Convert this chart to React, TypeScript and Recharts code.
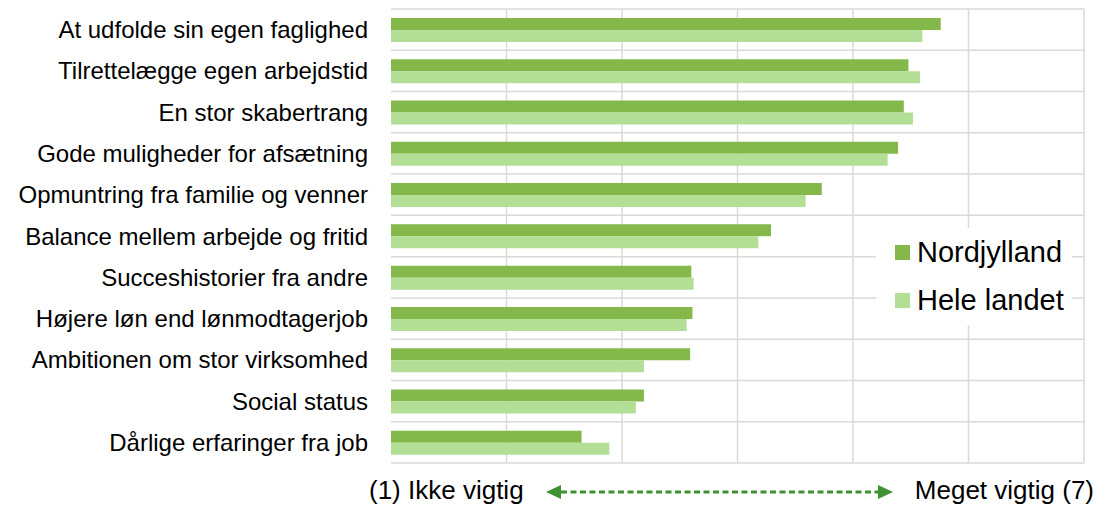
import React from "react";
import { BarChart, Bar, XAxis, YAxis, CartesianGrid, Legend } from "recharts";

const categories = [
  "At udfolde sin egen faglighed",
  "Tilrettelægge egen arbejdstid",
  "En stor skabertrang",
  "Gode muligheder for afsætning",
  "Opmuntring fra familie og venner",
  "Balance mellem arbejde og fritid",
  "Succeshistorier fra andre",
  "Højere løn end lønmodtagerjob",
  "Ambitionen om stor virksomhed",
  "Social status",
  "Dårlige erfaringer fra job",
];
const nordjylland = [5.76, 5.48, 5.44, 5.39, 4.73, 4.29, 3.6, 3.61, 3.59, 3.19, 2.65];
const heleLandet = [5.6, 5.58, 5.52, 5.3, 4.59, 4.18, 3.62, 3.56, 3.19, 3.12, 2.89];
const seriesNames = ["Nordjylland", "Hele landet"];
const xTicks = [1, 2, 3, 4, 5, 6, 7];
const leftLabel = "(1) Ikke vigtig";
const rightLabel = "Meget vigtig (7)";

const data = categories.map((c, i) => ({
  name: c,
  nord: nordjylland[i],
  hele: heleLandet[i],
}));

const FONT = "'Liberation Sans', Arial, Helvetica, sans-serif";
const DARK = "#84b84a";
const LIGHT = "#b3de96";
const ARROW = "#3f9131";

const BottomLabel = (props: any) => {
  const vb = props.viewBox || {};
  const x = vb.x;
  const w = vb.width;
  const ty = vb.y + 36;
  const ay = vb.y + 29;
  const l = x + 155;
  const r = x + 502;
  return (
    <g>
      <text x={x - 22} y={ty} fontSize={26} fontFamily={FONT} fill="#000" textAnchor="start">
        {leftLabel}
      </text>
      <text x={x + w + 10} y={ty} fontSize={26} fontFamily={FONT} fill="#000" textAnchor="end">
        {rightLabel}
      </text>
      <line x1={l + 15} y1={ay} x2={r - 15} y2={ay} stroke={ARROW} strokeWidth={3} strokeDasharray="6 3.5" />
      <polygon points={`${l},${ay} ${l + 15},${ay - 7} ${l + 15},${ay + 7}`} fill={ARROW} />
      <polygon points={`${r},${ay} ${r - 15},${ay - 7} ${r - 15},${ay + 7}`} fill={ARROW} />
    </g>
  );
};

const LegendContent = (props: any) => {
  const payload = [...(props.payload || [])].sort(
    (a: any, b: any) => seriesNames.indexOf(a.value) - seriesNames.indexOf(b.value)
  );
  return (
    <div style={{ paddingLeft: 19, fontFamily: FONT }}>
      {payload.map((p: any) => (
        <div key={p.value} style={{ height: 48.5, display: "flex", alignItems: "center" }}>
          <span style={{ width: 15, height: 15, background: p.color, display: "inline-block", marginRight: 7 }} />
          <span style={{ fontSize: 29, color: "#000", lineHeight: 1 }}>{p.value}</span>
        </div>
      ))}
    </div>
  );
};

export default function App() {
  const n = categories.length;
  return (
    <div style={{ position: "absolute", left: 0, top: 0, width: 1117, height: 506, background: "#fff" }}>
      <BarChart
        width={1117}
        height={506}
        data={data}
        layout="vertical"
        margin={{ top: 9, right: 33, bottom: 0, left: 0 }}
        barGap={0}
      >
        <CartesianGrid
          stroke="#d9d9d9"
          strokeWidth={1.5}
          horizontalCoordinatesGenerator={({ offset }: any) =>
            Array.from({ length: n + 1 }, (_, i) => offset.top + (i * offset.height) / n)
          }
          verticalCoordinatesGenerator={({ offset }: any) =>
            xTicks.slice(1).map((_, i) => offset.left + ((i + 1) * offset.width) / (xTicks.length - 1))
          }
        />
        <XAxis
          type="number"
          domain={[1, 7]}
          ticks={xTicks}
          tick={false}
          axisLine={false}
          tickLine={false}
          height={43}
          label={BottomLabel}
        />
        <YAxis
          type="category"
          dataKey="name"
          width={391}
          axisLine={false}
          tickLine={false}
          tickSize={0}
          tickMargin={23}
          interval={0}
          tick={{ fontSize: 24, fill: "#000", fontFamily: FONT }}
        />
        <Legend
          layout="vertical"
          align="center"
          verticalAlign="middle"
          content={LegendContent}
          wrapperStyle={{ left: 876, top: 228, width: 196, height: 97, background: "#fff" }}
        />
        <Bar dataKey="nord" name={seriesNames[0]} fill={DARK} barSize={12} isAnimationActive={false} />
        <Bar dataKey="hele" name={seriesNames[1]} fill={LIGHT} barSize={12} isAnimationActive={false} />
      </BarChart>
    </div>
  );
}
